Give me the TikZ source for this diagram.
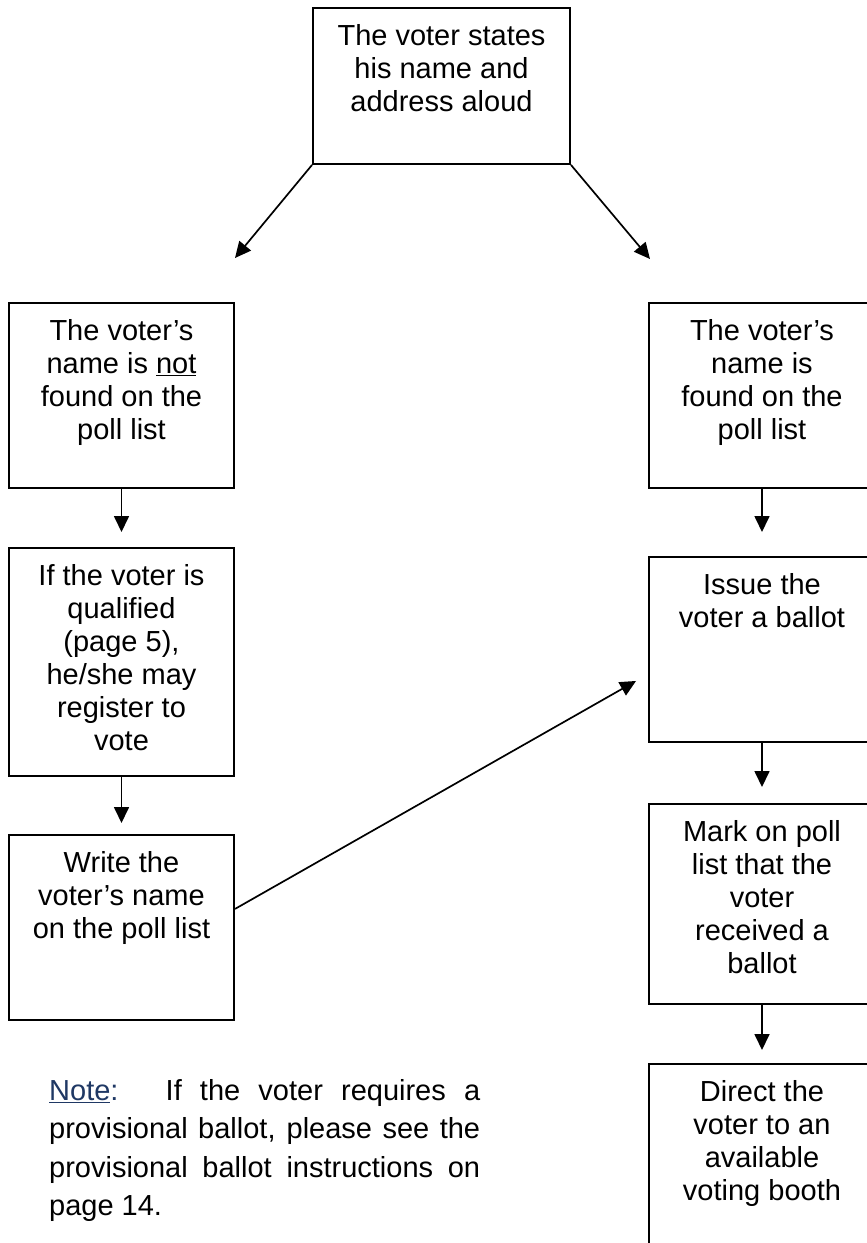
\documentclass[tikz,border=0pt]{standalone}
\usepackage{fontspec}
\setmainfont{Liberation Sans}
\usetikzlibrary{arrows.meta, positioning, calc}
\definecolor{NoteBlue}{HTML}{1F3864}
\newcommand{\steptext}[3]{\parbox[c][#2][t]{#1}{\centering\rule{0pt}{38pt}#3}}

\begin{document}
\begin{tikzpicture}[x=1pt, y=-1pt, font=\fontsize{29}{33}\selectfont,
    stepbox/.style={draw, line width=1.9pt, inner sep=0pt, anchor=north},
    flow/.style={line width=1.7pt, -{Triangle[length=16pt, width=15pt]}}]
    \useasboundingbox (0,0) rectangle (867,1243);
    \clip (0,0) rectangle (867,1243);
    \node[stepbox] (start) at (441.5,7) {\steptext{257pt}{156pt}{The voter states\\his name and\\address aloud}};
    \node[stepbox] (l1) at (121.5,302) {\steptext{225pt}{185pt}{The voter’s\\name is \underline{not}\\found on the\\poll list}};
    \node[stepbox] (l2) at (121.5,547) {\steptext{225pt}{228pt}{If the voter is\\qualified\\(page 5),\\he/she may\\register to\\vote}};
    \node[stepbox] (l3) at (121.5,834) {\steptext{225pt}{185pt}{Write the\\voter’s name\\on the poll list}};
    \node[stepbox] (r1) at (762,302) {\steptext{226pt}{185pt}{The voter’s\\name is\\found on the\\poll list}};
    \node[stepbox] (r2) at (762,556) {\steptext{226pt}{185pt}{Issue the\\voter a ballot}};
    \node[stepbox] (r3) at (762,803) {\steptext{226pt}{200pt}{Mark on poll\\list that the\\voter\\received a\\ballot}};
    \node[stepbox] (r4) at (762,1063) {\steptext{226pt}{185pt}{Direct the\\voter to an\\available\\voting booth}};
    \node[anchor=north west, inner sep=0pt, text width=431pt, align=justify, font=\fontsize{29}{38.5}\selectfont] (note) at (49,1079)
        {{\color{NoteBlue}\underline{Note}:}\quad\ If the voter requires a\linebreak provisional ballot, please see the\linebreak provisional ballot instructions on\linebreak page 14.};
    \coordinate (ltip) at (235,258);
    \coordinate (rtip) at (650,259);
    \draw[flow] (start.south west) -- (ltip);
    \draw[flow] (start.south east) -- (rtip);
    \draw[flow, shorten >=15pt] (l1.south) -- (l2.north);
    \draw[flow, shorten >=11pt] (l2.south) -- (l3.north);
    \draw[flow, shorten >=24pt] (r1.south) -- (r2.north);
    \draw[flow, shorten >=16pt] (r2.south) -- (r3.north);
    \draw[flow, shorten >=13pt] (r3.south) -- (r4.north);
    \draw[flow] ([yshift=18.5pt]l3.east) -- ([xshift=-12pt, yshift=-31.5pt]r2.west);
\end{tikzpicture}
\end{document}
